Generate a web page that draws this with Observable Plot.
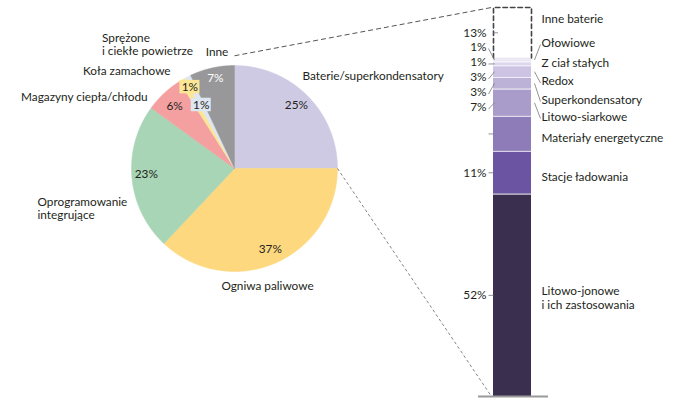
<!DOCTYPE html>
<html><head><meta charset="utf-8">
<script src="https://cdn.jsdelivr.net/npm/d3@7"></script>
<script src="https://cdn.jsdelivr.net/npm/@observablehq/plot@0.6"></script>
<style>body{margin:0;background:#fff} svg{display:block}</style>
</head><body><div id="chart"></div>
<script>
// ---------- DATA ----------
// Pie (clockwise from 12 o'clock)
const pieCategories = ["Baterie/superkondensatory", "Ogniwa paliwowe", "Oprogramowanie\nintegrujące", "Magazyny ciepła/chłodu", "Koła zamachowe", "Sprężone\ni ciekłe powietrze", "Inne"];
const pieValues = [25, 37, 23, 6, 1, 1, 7];
const pieColors = ["#cfcae3", "#fdd87f", "#a7d5b5", "#f4a0a0", "#fbe696", "#dde6f1", "#98989a"];
// Stacked bar (bottom to top) – breakdown of "Baterie/superkondensatory"
const barCategories = ["Litowo-jonowe\ni ich zastosowania", "Stacje ładowania", "Materiały energetyczne", "Litowo-siarkowe", "Superkondensatory", "Redox", "Z ciał stałych", "Ołowiowe", "Inne baterie"];
const barValues = [52, 11, 9, 7, 3, 3, 1, 1, 13];
const barColors = ["#3a2f4f", "#6b55a2", "#8e7cb8", "#a99bca", "#bcb1d7", "#ccc4e2", "#dcd7ec", "#ebe8f3", "#ffffff"];
const barTickLabels = ["52%", "11%", "", "7%", "3%", "3%", "1%", "1%", "13%"];

// ---------- LAYOUT (pixels) ----------
const W = 693, H = 414;
const barBottomPx = 396, barTopPx = 7;
const K = (barBottomPx - barTopPx) / 100;       // px per percent unit
const X = px => px / K;
const Y = py => (barBottomPx - py) / K;
const pieCx = 234, pieCy = 168, pieR = 103;
const barLeftPx = 493, barRightPx = 531;
const font = "Lato, 'Open Sans', sans-serif";
const ink = "#231f20";
const fs = 11.8;

// pie category label layout
const pieLabelLayout = [
  {x: 302, y: 75, anchor: "start"},
  {x: 267, y: 285, anchor: "middle"},
  {x: 37, y: 207.5, anchor: "start"},
  {x: 20.5, y: 96.5, anchor: "start"},
  {x: 82.5, y: 70, anchor: "start"},
  {x: 101.5, y: 43.5, anchor: "start"},
  {x: 216.5, y: 51.5, anchor: "middle"}
];
// percent label offsets (px) from polar position
const pctOffset = [[0,-1],[1,0],[-1,-3],[0,2],[0,-6],[6.5,14.5],[0,-4.5]];
const pctBoxed = [false,false,false,false,true,true,false];
const pctColor = [ink, ink, ink, ink, ink, ink, "#ffffff"];
// bar label layout
const leftLabelPx = {3: 107, 4: 92, 5: 77, 6: 62, 7: 46.5, 8: 32.5};
const rightLabelPx = [297, 176.5, 137.5, 116, 99, 80.5, 62, 42, 18];
const rightLeader = [false, false, false, true, true, true, false, true, false];

// ---------- DERIVED ----------
const total = d3.sum(pieValues);
const ends = d3.cumsum(pieValues);
const slices = pieCategories.map((c, i) => ({
  c, v: pieValues[i], color: pieColors[i],
  a0: (ends[i] - pieValues[i]) / total * 2 * Math.PI,
  a1: ends[i] / total * 2 * Math.PI
}));
const cx = X(pieCx), cy = Y(pieCy), r = pieR / K;
const polar = (a, rr) => [cx + rr * Math.sin(a), cy + rr * Math.cos(a)];

const sliceMarks = slices.map(s => {
  const n = Math.max(2, Math.ceil((s.a1 - s.a0) / 0.01));
  const pts = [[cx, cy]];
  for (let j = 0; j <= n; j++) pts.push(polar(s.a0 + (s.a1 - s.a0) * j / n, r));
  pts.push([cx, cy]);
  return Plot.line(pts, {x: d => d[0], y: d => d[1], fill: s.color, stroke: s.color, strokeWidth: 0.5, curve: "linear"});
});

const pctLabels = slices.map((s, i) => {
  const [x, y] = polar((s.a0 + s.a1) / 2, r * 0.85);
  return {t: s.v + "%", x: x + X(pctOffset[i][0]), y: y - pctOffset[i][1] / K, color: pctColor[i], boxed: pctBoxed[i], bg: s.color};
});
const catLabels = slices.map((s, i) => ({t: s.c, x: X(pieLabelLayout[i].x), y: Y(pieLabelLayout[i].y), anchor: pieLabelLayout[i].anchor}));

const bcum = d3.cumsum(barValues);
const segs = barCategories.map((c, i) => ({
  c, i, v: barValues[i], y1: bcum[i] - barValues[i], y2: bcum[i], mid: bcum[i] - barValues[i] / 2,
  color: barColors[i], tick: barTickLabels[i]
}));
const filled = segs.slice(0, -1);
const other = segs[segs.length - 1];
const bx0 = X(barLeftPx), bx1 = X(barRightPx);

const leftLabels = segs.filter(d => d.tick).map(d => ({
  t: d.tick, x: X(486),
  y: leftLabelPx[d.i] !== undefined ? Y(leftLabelPx[d.i]) : d.mid
}));
const leftLeaders = segs.map(d => {
  if (d.i === 8) return {x1: X(493), y1: d.mid, x2: X(497.5), y2: d.mid};
  if (leftLabelPx[d.i] !== undefined) return {x1: X(488), y1: Y(leftLabelPx[d.i] + 1.5), x2: X(494), y2: d.mid};
  return {x1: X(488), y1: d.mid, x2: X(493), y2: d.mid};
});
const rightLabels = segs.map(d => ({t: d.c, x: X(541), y: Y(rightLabelPx[d.i])}));
const rightLeaders = segs.filter(d => rightLeader[d.i]).map(d => ({
  x1: X(534), y1: d.mid, x2: X(540), y2: Y(rightLabelPx[d.i] + 2)
}));

const boxW = 20 / K, boxH = 13.5 / K;
const boxes = pctLabels.filter(d => d.boxed);

const top0 = polar(slices[0].a0, r + 2.5);
const bot0 = polar(slices[0].a1, r);

const chart = Plot.plot({
  width: W, height: H,
  margin: 0,
  x: {domain: [0, W / K], range: [0, W], axis: null},
  y: {domain: [0, 100], range: [barBottomPx, barTopPx], axis: null},
  color: {type: "identity"},
  style: {fontFamily: font, fontSize: fs + "px", color: ink, background: "#fff", overflow: "visible"},
  marks: [
    ...sliceMarks,
    // connectors
    Plot.link([{x1: top0[0], y1: top0[1], x2: X(491), y2: 100}], {x1: "x1", y1: "y1", x2: "x2", y2: "y2", stroke: "#555", strokeWidth: 1, strokeDasharray: "5,3"}),
    Plot.link([{x1: bot0[0], y1: bot0[1], x2: X(491), y2: 0}], {x1: "x1", y1: "y1", x2: "x2", y2: "y2", stroke: "#666", strokeWidth: 0.8, strokeDasharray: "3,2.5"}),
    // bar
    Plot.rect(filled, {x1: bx0, x2: bx1, y1: "y1", y2: "y2", fill: "color"}),
    Plot.ruleY(filled.slice(0, -1), {y: "y2", x1: bx0, x2: bx1, stroke: "#fff", strokeWidth: 1, strokeOpacity: 0.8}),
    Plot.line([[bx0, other.y1], [bx0, other.y2], [bx1, other.y2], [bx1, other.y1]], {x: d => d[0], y: d => d[1], stroke: "#444", strokeWidth: 1.6, strokeDasharray: "4.5,3"}),
    Plot.ruleY([0], {x1: X(478), x2: X(548), stroke: "#9a9a9a", strokeWidth: 2}),
    // pie labels
    Plot.rect(boxes, {x1: d => d.x - boxW / 2, x2: d => d.x + boxW / 2, y1: d => d.y - boxH / 2, y2: d => d.y + boxH / 2, fill: "bg"}),
    Plot.text(pctLabels, {x: "x", y: "y", text: "t", fill: "color", fontSize: fs}),
    Plot.text(catLabels.filter(d => d.anchor === "start"), {x: "x", y: "y", text: "t", textAnchor: "start", fill: ink, fontSize: fs, lineHeight: 1.17}),
    Plot.text(catLabels.filter(d => d.anchor === "middle"), {x: "x", y: "y", text: "t", textAnchor: "middle", fill: ink, fontSize: fs, lineHeight: 1.17}),
    // bar labels
    Plot.link(leftLeaders, {x1: "x1", y1: "y1", x2: "x2", y2: "y2", stroke: "#777", strokeWidth: 0.8}),
    Plot.text(leftLabels, {x: "x", y: "y", text: "t", textAnchor: "end", fill: ink, fontSize: fs}),
    Plot.link(rightLeaders, {x1: "x1", y1: "y1", x2: "x2", y2: "y2", stroke: "#777", strokeWidth: 0.8}),
    Plot.text(rightLabels, {x: "x", y: "y", text: "t", textAnchor: "start", fill: ink, fontSize: fs, lineHeight: 1.17})
  ]
});
document.getElementById("chart").appendChild(chart);
</script>
</body></html>
